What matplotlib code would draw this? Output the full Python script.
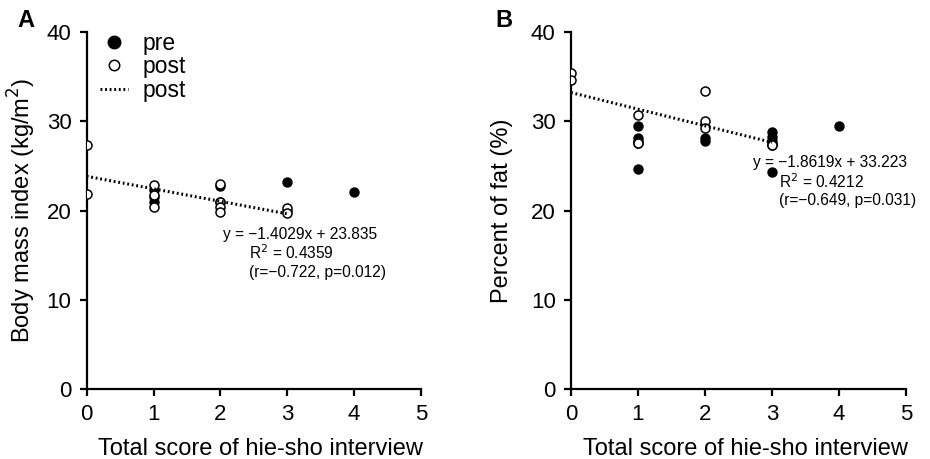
import matplotlib
matplotlib.use("Agg")
import matplotlib.pyplot as plt
from matplotlib.lines import Line2D

plt.rcParams['font.family'] = ['Liberation Sans', 'DejaVu Sans']

# score of hie-sho interview
bmi_pre_x = [1, 1, 1, 2, 2, 3, 3, 4]
bmi_pre_y = [22.3, 21.0, 21.5, 22.75, 21.0, 23.2, 19.9, 22.05]
bmi_post_x = [0, 0, 1, 1, 1, 2, 2, 2, 2, 3, 3]
bmi_post_y = [27.35, 21.85, 22.9, 21.7, 20.4, 22.95, 21.0, 20.4, 19.8, 20.25, 19.7]

fat_pre_x = [1, 1, 1, 1, 2, 2, 3, 3, 3, 3, 4]
fat_pre_y = [29.45, 28.1, 27.8, 24.7, 28.1, 27.75, 28.75, 28.2, 27.8, 24.35, 29.45]
fat_post_x = [0, 0, 1, 1, 2, 2, 2, 3, 3, 3, 1]
fat_post_y = [35.45, 34.65, 30.75, 27.55, 33.35, 30.0, 29.25, 27.35, 27.4, 27.3, 27.6]

bmi_fit = (-1.4029, 23.835)
fat_fit = (-1.8619, 33.223)
fit_x = [0, 3]

bmi_text = ["y = \u22121.4029x + 23.835", "R$^2$ = 0.4359", "(r=\u22120.722, p=0.012)"]
fat_text = ["y = \u22121.8619x + 33.223", "R$^2$ = 0.4212", "(r=\u22120.649, p=0.031)"]

DOTS = (0, (0.6, 0.9))

fig = plt.figure(figsize=(9.3, 4.59), dpi=100)
axA = fig.add_axes([0.0932, 0.1525, 0.3595, 0.7777])
axB = fig.add_axes([0.614, 0.1525, 0.360, 0.7777])


def draw_panel(ax, px, py, qx, qy, fit, lines, ylabel, ylab_x, tx, ty):
    ax.scatter(px, py, s=42, color='black', edgecolors='black', linewidths=1, zorder=3)
    ax.scatter(qx, qy, s=42, color='white', edgecolors='black', linewidths=1.1, zorder=4)
    ax.plot(fit_x, [fit[0] * x + fit[1] for x in fit_x], color='black',
            linestyle=DOTS, linewidth=2.2, zorder=5)
    ax.set_xlim(0, 5)
    ax.set_ylim(0, 40)
    ax.set_xticks(range(6))
    ax.set_yticks(range(0, 41, 10))
    ax.spines['top'].set_visible(False)
    ax.spines['right'].set_visible(False)
    ax.spines['left'].set_linewidth(1.6)
    ax.spines['bottom'].set_linewidth(1.6)
    ax.tick_params(direction='out', length=5, width=1.6, labelsize=16)
    ax.tick_params(axis='y', pad=6)
    ax.tick_params(axis='x', pad=6)
    ax.set_xlabel('Total score of hie-sho interview', fontsize=17)
    ax.xaxis.set_label_coords(0.52, -0.137)
    ax.set_ylabel(ylabel, fontsize=17)
    ax.yaxis.set_label_coords(ylab_x, 0.5)
    for i, t in enumerate(lines):
        dx = 0 if i == 0 else 0.39
        ax.text(tx + dx, ty - 2.12 * i, t, fontsize=11.2, va='center')


draw_panel(axA, bmi_pre_x, bmi_pre_y, bmi_post_x, bmi_post_y, bmi_fit, bmi_text,
           'Body mass index (kg/m$^2$)', -0.146, 2.04, 17.35)
draw_panel(axB, fat_pre_x, fat_pre_y, fat_post_x, fat_post_y, fat_fit, fat_text,
           'Percent of fat (%)', -0.173, 2.72, 25.4)

handles = [
    Line2D([], [], marker='o', color='black', linestyle='none', markersize=9),
    Line2D([], [], marker='o', markerfacecolor='white', markeredgecolor='black',
           linestyle='none', markersize=7.5, markeredgewidth=1.1),
    Line2D([], [], color='black', linestyle=DOTS, linewidth=2.2),
]
axA.legend(handles, ['pre', 'post', 'post'], loc='upper left', bbox_to_anchor=(0.04, 1.0),
           frameon=False, fontsize=16.5, handlelength=1.2, handletextpad=0.65,
           labelspacing=0.02, borderaxespad=0, borderpad=0)

fig.text(0.019, 0.955, 'A', fontsize=17, fontweight='bold', va='center')
fig.text(0.533, 0.955, 'B', fontsize=17, fontweight='bold', va='center')

fig.savefig('out.png', dpi=100)
